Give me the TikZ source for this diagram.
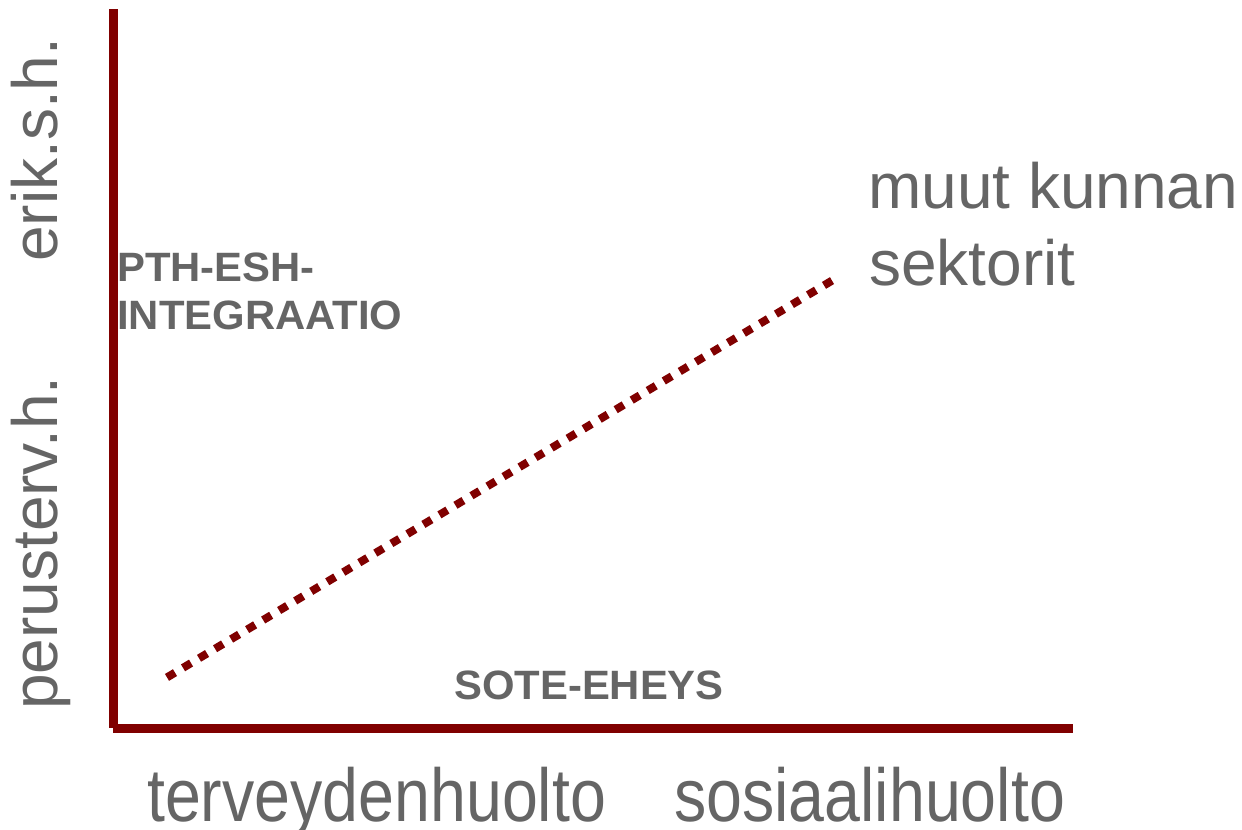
\documentclass[tikz,border=0pt]{standalone}
\usepackage{fontspec}
\setmainfont{Liberation Sans}
\definecolor{axisred}{HTML}{800000}
\definecolor{labelgrey}{HTML}{656565}
\begin{document}
\begin{tikzpicture}[x=1bp,y=-1bp,
  axis/.style={draw=axisred,line width=9bp,line cap=butt},
  trend/.style={draw=axisred,line width=8bp,dash pattern=on 9.33bp off 9.33bp},
  biglabel/.style={inner sep=0pt,anchor=base west,text=labelgrey,font=\fontsize{64bp}{77bp}\selectfont},
  boldlabel/.style={inner sep=0pt,anchor=base west,text=labelgrey,font=\fontsize{41bp}{48bp}\selectfont\bfseries,xscale=1.02},
  ticklabel/.style={inner sep=0pt,anchor=base west,text=labelgrey,font=\fontsize{75bp}{80bp}\selectfont,xscale=0.86}]
  \useasboundingbox (0,0) rectangle (1242,830);
  % axes
  \coordinate (ytop) at (113,9);
  \coordinate (origin) at (113,728.5);
  \coordinate (xend) at (1073,728.5);
  \draw[axis] (ytop) -- (113,728);
  \draw[axis] (origin) -- (xend);
  % dotted trend line
  \coordinate (tstart) at (167,677.4);
  \coordinate (tend) at (832,280.6);
  \draw[trend] (tstart) -- (tend);
  % vertical axis labels
  \node[biglabel,rotate=90] (erik) at (57,262) {erik.s.h.};
  \node[biglabel,rotate=90] (perus) at (57,710) {perusterv.h.};
  % horizontal axis labels
  \node[ticklabel] (terv) at (147,821) {terveydenhuolto};
  \node[ticklabel] (sos) at (674,821) {sosiaalihuolto};
  % inner labels
  \node[boldlabel] (pth1) at (117,281) {PTH-ESH-};
  \node[boldlabel] (pth2) at (117,329) {INTEGRAATIO};
  \node[boldlabel] (sote) at (454,699) {SOTE-EHEYS};
  \node[biglabel] (muut1) at (868,208) {muut kunnan};
  \node[biglabel] (muut2) at (869,285) {sektorit};
\end{tikzpicture}
\end{document}
